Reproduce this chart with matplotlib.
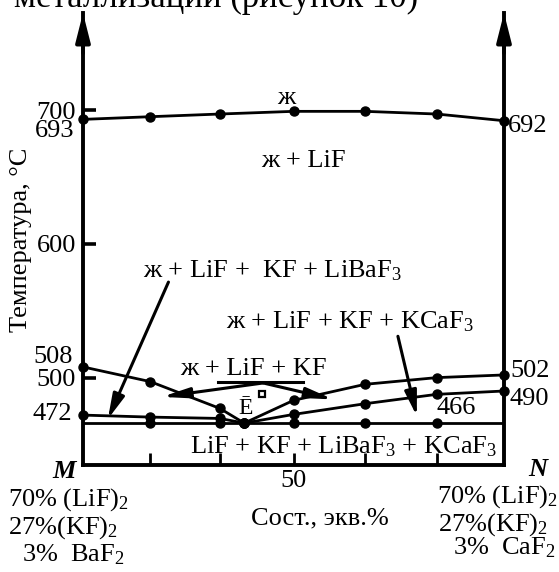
import matplotlib.pyplot as plt
from matplotlib.patches import FancyArrowPatch

plt.rcParams['font.family'] = ['Liberation Serif', 'DejaVu Serif']
plt.rcParams['mathtext.default'] = 'regular'

# Composition, eq.% (M = 0, N = 100)
comp = [0, 16, 32.5, 50, 67, 84, 100]
liquidus = [693, 695, 697, 699, 699, 697, 692]

# Ternary eutectic E
eut_x, eut_t = 38.3, 466

# Branches on the M side, running to E
left_comp = [0, 16, 32.5]
upper_left = [508, 497, 477]
lower_left = [472, 470.5, 469.5]

# Branches on the N side, running from E
right_comp = [50, 67, 84, 100]
upper_right = [483, 495, 500, 502]
lower_right = [472.5, 480.5, 487.5, 490]

# Solidus (invariant line)
solidus_t = 466
solidus_comp = [16, 32.5, 50, 67, 84]

x_ticks = [16, 32.5, 50, 67, 84]
x_ticklabels = ['', '', '50', '', '']
y_ticks = [500, 600, 700]

W, H = 559, 572
FS = 19


def fpos(px, py):
    return px / W, 1 - py / H


fig = plt.figure(figsize=(W / 100, H / 100), dpi=100)
ax = fig.add_axes([83 / W, 1 - 465 / H, 421 / W, 452 / H])
ax.set_xlim(0, 100)
ax.set_ylim(434.7, 772.5)

line = dict(color='k', lw=2.0, marker='o', ms=6.5, clip_on=False, zorder=3)

ax.plot(comp, liquidus, **line)
ax.plot(left_comp + [eut_x], upper_left + [eut_t], **line)
ax.plot(left_comp + [eut_x], lower_left + [eut_t], **line)
ax.plot([eut_x] + right_comp, [eut_t] + upper_right, **line)
ax.plot([eut_x] + right_comp, [eut_t] + lower_right, **line)
ax.axhline(solidus_t, color='k', lw=2.0, zorder=3)
ax.plot(solidus_comp, [solidus_t] * len(solidus_comp), 'ko', ms=6.5, zorder=3)

# axes frame: left, right, bottom
for side in ['left', 'right', 'bottom']:
    ax.spines[side].set_linewidth(2.8)
ax.spines['top'].set_visible(False)

ax.set_yticks(y_ticks)
ax.set_yticklabels([str(t) for t in y_ticks])
ax.tick_params(axis='y', direction='in', length=9.5, width=2.6, pad=5,
               labelsize=FS, right=False)
ax.set_xticks(x_ticks)
ax.set_xticklabels(x_ticklabels)
ax.tick_params(axis='x', direction='in', length=8.6, width=2.0, pad=3.5,
               labelsize=FS)

# arrowheads on top of both temperature axes
y0, y1 = ax.get_ylim()
for xa in [0, 100]:
    ax.add_patch(FancyArrowPatch((xa, y1 - 30), (xa, y1),
                                 arrowstyle='-|>,head_length=17,head_width=4.3',
                                 mutation_scale=1, lw=2.8, color='k',
                                 shrinkA=0, shrinkB=0, clip_on=False, zorder=4))

# values at the ends of the curves
ends = [
    (0, liquidus[0], -9, -12, 'right'),
    (100, liquidus[-1], 4, -5, 'left'),
    (0, upper_left[0], -10, 10, 'right'),
    (0, lower_left[0], -11, 1, 'right'),
    (100, upper_right[-1], 6, 4, 'left'),
    (100, lower_right[-1], 6, -8, 'left'),
    (solidus_comp[-1], solidus_t, 0, 15, 'left'),
]
for xv, tv, dx, dy, ha in ends:
    ax.annotate(f'{tv:g}', xy=(xv, tv), xytext=(dx, dy),
                textcoords='offset pixels', ha=ha, va='center',
                fontsize=FS, annotation_clip=False)

# phase field labels
ax.text(48.3, 709.3, 'ж', ha='center', va='center', fontsize=FS)
ax.text(52.3, 662, 'ж + LiF', ha='center', va='center', fontsize=FS)
ax.text(14.3, 579.9, 'ж + LiF +  KF + LiBaF$_3$', ha='left', va='center',
        fontsize=FS)
ax.text(34.0, 541.6, 'ж + LiF + KF + KCaF$_3$', ha='left', va='center',
        fontsize=FS)
ax.text(23.0, 506.8, 'ж + LiF + KF', ha='left', va='center', fontsize=FS)
ax.text(62, 448.3, 'LiF + KF + LiBaF$_3$ + KCaF$_3$', ha='center',
        va='center', fontsize=FS, zorder=5)
ax.text(38.7, 477.2, 'Ē', ha='center', va='center', fontsize=17)
ax.plot([42.4], [487.4], 's', ms=5, mfc='white', mec='k', mew=1.6)

# bar under "ж + LiF + KF" and its two pointers
ax.plot([32.1, 52.3], [496.8, 496.8], color='k', lw=2.2)


def pointer(start, tip, hl=15, hw=3.6):
    ax.add_patch(FancyArrowPatch(start, tip,
                                 arrowstyle=f'-|>,head_length={hl},head_width={hw}',
                                 mutation_scale=1, lw=2.2, color='k',
                                 shrinkA=0, shrinkB=0, clip_on=False, zorder=4))


pointer((42.8, 496), (18.7, 485.6), hl=16, hw=3)
pointer((42.8, 496), (59.5, 483.7), hl=16, hw=3)
pointer((20.3, 571.4), (5.9, 469))
pointer((74.8, 530.9), (79.3, 471.2))

# texts outside the axes
fig.text(*fpos(418, 7), 'металлизации (рисунок 10)', ha='right',
         va='baseline', fontsize=25)
fig.text(*fpos(21, 240), 'Температура, °C', rotation=90, ha='center',
         va='center', fontsize=FS)
fig.text(*fpos(320, 518), 'Сост., экв.%', ha='center', va='center',
         fontsize=FS)

fig.text(*fpos(64, 471), 'M', ha='center', va='center', fontsize=FS,
         fontweight='bold', fontstyle='italic')
fig.text(*fpos(8, 500), '70% (LiF)$_2$', ha='left', va='center', fontsize=FS)
fig.text(*fpos(8, 528), '27%(KF)$_2$', ha='left', va='center', fontsize=FS)
fig.text(*fpos(22, 555), '3%  BaF$_2$', ha='left', va='center', fontsize=FS)

fig.text(*fpos(538, 470), 'N', ha='center', va='center', fontsize=FS,
         fontweight='bold', fontstyle='italic')
fig.text(*fpos(437, 497), '70% (LiF)$_2$', ha='left', va='center', fontsize=FS)
fig.text(*fpos(438, 525), '27%(KF)$_2$', ha='left', va='center', fontsize=FS)
fig.text(*fpos(453, 548), '3%  CaF$_2$', ha='left', va='center', fontsize=FS)

fig.savefig('out.png', dpi=100)
